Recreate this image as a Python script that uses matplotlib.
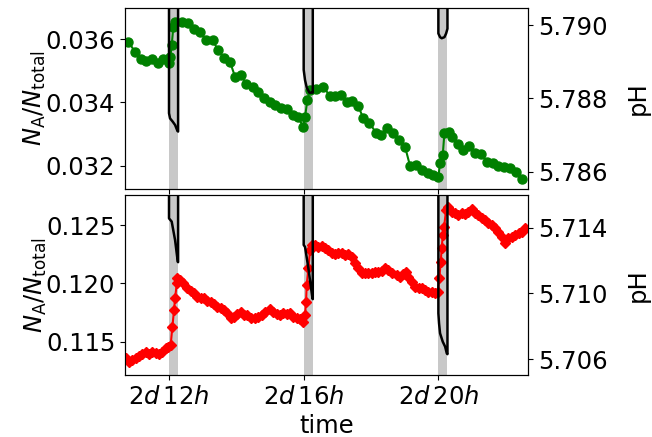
import numpy as np
import matplotlib
matplotlib.use("Agg")
import matplotlib.pyplot as plt
from matplotlib.ticker import FixedLocator, FuncFormatter

# ---------------- data (time in hours of day 2) ----------------
band_starts = [12.0, 16.0, 20.0]
band_len = 0.27
xtick_hours = [12, 16, 20]

green_t = [10.79, 10.99, 11.16, 11.32, 11.50, 11.68, 11.83, 12.01,
           12.04, 12.08, 12.13, 12.18, 12.38, 12.57, 12.74, 12.92,
           13.10, 13.30, 13.45, 13.64, 13.81, 13.96, 14.14, 14.29,
           14.49, 14.65, 14.83, 15.00, 15.15, 15.33, 15.50, 15.69,
           15.84, 15.99, 16.04, 16.11, 16.19, 16.37, 16.58, 16.78,
           16.93, 17.10, 17.28, 17.44, 17.62, 17.77, 17.95, 18.15,
           18.30, 18.48, 18.66, 18.83, 19.01, 19.16, 19.34, 19.51,
           19.68, 19.85, 20.00, 20.05, 20.13, 20.18, 20.33, 20.40,
           20.59, 20.74, 20.92, 21.09, 21.27, 21.44, 21.61, 21.78,
           21.95, 22.13, 22.31, 22.48]
green_v = [35.92, 35.61, 35.37, 35.31, 35.37, 35.26, 35.37, 35.24,
           35.44, 35.82, 36.40, 36.56, 36.56, 36.53, 36.32, 36.24,
           35.98, 35.98, 35.66, 35.40, 35.29, 34.82, 34.87, 34.59,
           34.48, 34.34, 34.15, 34.03, 33.92, 33.82, 33.78, 33.60,
           33.53, 33.22, 33.55, 34.08, 34.40, 34.42, 34.48, 34.22,
           34.22, 34.24, 34.01, 34.06, 33.89, 33.50, 33.36, 33.04,
           32.97, 33.18, 33.04, 32.81, 32.60, 31.99, 32.02, 31.86,
           31.76, 31.71, 31.65, 32.08, 32.34, 33.04, 33.08, 32.92,
           32.69, 32.50, 32.62, 32.41, 32.37, 32.13, 32.08, 32.00,
           31.97, 31.94, 31.81, 31.57]  # x 1e-3

red_t = [10.71, 10.81, 10.91, 11.01, 11.11, 11.21, 11.31, 11.41, 11.50, 11.60,
         11.70, 11.80, 11.90, 11.97, 12.05, 12.10, 12.15, 12.18, 12.23, 12.25,
         12.33, 12.42, 12.54, 12.64, 12.74, 12.84, 12.94, 13.04, 13.14, 13.24, 13.34,
         13.43, 13.54, 13.63, 13.73, 13.83, 13.93, 14.03, 14.13, 14.23, 14.33, 14.43,
         14.55, 14.65, 14.75, 14.85, 15.00, 15.10, 15.20, 15.30, 15.39, 15.50, 15.59,
         15.69, 15.79, 15.89, 15.99, 16.04, 16.07, 16.09, 16.14, 16.19, 16.24,
         16.34, 16.43, 16.54, 16.63, 16.73, 16.83, 16.93, 17.03, 17.13, 17.23, 17.33,
         17.43, 17.52, 17.62, 17.72, 17.82, 17.92, 18.02, 18.12, 18.22, 18.32, 18.42,
         18.51, 18.61,
         18.76, 18.86, 18.96, 19.04, 19.11, 19.21, 19.31, 19.41, 19.51, 19.60, 19.70,
         19.80, 19.90, 19.98, 20.03, 20.07, 20.10, 20.13, 20.17, 20.23, 20.30,
         20.40, 20.49, 20.59, 20.69, 20.79, 20.89, 20.99, 21.09, 21.19, 21.29, 21.39,
         21.48, 21.58, 21.68, 21.78, 21.88, 21.98, 22.08, 22.18, 22.28, 22.38, 22.48,
         22.57]
red_v = [113.58, 113.26, 113.43, 113.58, 113.80, 113.92, 114.09, 113.92, 114.09, 114.01,
         113.92, 114.09, 114.43, 114.57, 114.72, 116.29, 117.72, 118.72, 120.00, 120.43,
         120.29, 120.00, 119.63, 119.34, 119.15, 118.86, 118.77, 118.72, 118.49, 118.43, 118.20,
         118.00, 117.86, 117.72, 117.43, 117.00, 117.14, 117.35, 117.57, 117.29, 117.29, 117.00,
         117.00, 117.14, 117.29, 117.52, 117.80, 117.52, 117.35, 117.29, 117.43, 117.35, 117.43,
         117.14, 117.06, 116.95, 116.66, 117.29, 118.43, 119.86, 121.29, 122.86, 123.29,
         123.29, 123.14, 123.23, 123.00, 122.86, 122.57, 122.49, 122.57, 122.57, 122.43, 122.49,
         122.28, 121.72, 121.29, 120.86, 120.86, 120.86, 120.86, 120.95, 121.00, 121.06, 121.29,
         121.14, 120.86,
         120.72, 120.57, 120.78, 120.95, 120.57, 120.09, 119.71, 119.58, 119.58, 119.43, 119.28,
         119.28, 119.15, 119.28, 120.43, 121.86, 123.00, 124.14, 124.85, 126.29, 126.57,
         126.14, 126.00, 125.86, 126.00, 125.92, 126.14, 126.37, 126.00, 125.86, 125.57, 125.43,
         125.15, 125.00, 124.77, 124.43, 124.00, 123.43, 123.86, 124.00, 124.14, 124.29, 124.43,
         124.72]  # x 1e-3

# pH during the dosing windows (outside them pH is above the plotted range)
ph_top_t = [[12.0, 12.0, 12.03, 12.11, 12.18, 12.25, 12.27, 12.27],
            [16.0, 16.0, 16.04, 16.09, 16.17, 16.24, 16.27, 16.27],
            [20.0, 20.0, 20.05, 20.10, 20.18, 20.23, 20.27, 20.27]]
ph_top_v = [[5.7960, 5.78760, 5.78746, 5.78737, 5.78728, 5.78712, 5.78710, 5.7960],
            [5.7960, 5.78878, 5.78850, 5.78830, 5.78816, 5.78816, 5.78816, 5.7960],
            [5.7960, 5.78977, 5.78967, 5.78964, 5.78967, 5.78977, 5.78990, 5.7960]]
ph_bot_t = [[12.0, 12.0, 12.08, 12.18, 12.26, 12.27, 12.27],
            [16.0, 16.0, 16.04, 16.14, 16.26, 16.27, 16.27],
            [20.0, 20.0, 20.02, 20.05, 20.13, 20.20, 20.25, 20.27, 20.27]]
ph_bot_v = [[5.7200, 5.71457, 5.71437, 5.71325, 5.71193, 5.71190, 5.7200],
            [5.7200, 5.71295, 5.71283, 5.71153, 5.70970, 5.70965, 5.7200],
            [5.7200, 5.70879, 5.70818, 5.70757, 5.70706, 5.70676, 5.70635, 5.70630, 5.7200]]

top_left_ticks = [0.032, 0.034, 0.036]
top_right_ticks = [5.786, 5.788, 5.790]
bot_left_ticks = [0.115, 0.120, 0.125]
bot_right_ticks = [5.706, 5.710, 5.714]

# ---------------- figure ----------------
FS = 17.5
fig = plt.figure(figsize=(6.52, 4.37), dpi=100)
L, W = 125 / 652, (528 - 125) / 652
ax1 = fig.add_axes([L, 1 - 189 / 437, W, (189 - 8) / 437])
ax3 = fig.add_axes([L, 1 - 375 / 437, W, (375 - 195) / 437], sharex=ax1)
ax2 = ax1.twinx()
ax4 = ax3.twinx()

for ax in (ax1, ax3):
    for s in band_starts:
        ax.axvspan(s, s + band_len, color='#c8c8c8', lw=0, zorder=0)

ax1.plot(green_t, np.array(green_v) * 1e-3, '-o', color='green', ms=6.5, lw=1.5, zorder=3)
ax3.plot(red_t, np.array(red_v) * 1e-3, '-D', color='red', ms=5, lw=1.5, zorder=3)

for tt, vv in zip(ph_top_t, ph_top_v):
    ax2.plot(tt, vv, color='black', lw=1.8)
for tt, vv in zip(ph_bot_t, ph_bot_v):
    ax4.plot(tt, vv, color='black', lw=1.8)

ax1.set_xlim(10.693, 22.662)
ax1.set_ylim(0.031263, 0.036990)
ax2.set_ylim(5.785537, 5.790463)
ax3.set_ylim(0.112147, 0.127571)
ax4.set_ylim(5.705032, 5.715991)

ax1.xaxis.set_major_locator(FixedLocator(xtick_hours))
ax3.xaxis.set_major_formatter(FuncFormatter(lambda x, p: r'$2d\,%dh$' % int(round(x))))
plt.setp(ax1.get_xticklabels(), visible=False)

ax1.set_yticks(top_left_ticks)
ax2.set_yticks(top_right_ticks)
ax3.set_yticks(bot_left_ticks)
ax4.set_yticks(bot_right_ticks)
fmt3 = FuncFormatter(lambda v, p: '%.3f' % v)
for ax in (ax1, ax2, ax3, ax4):
    ax.yaxis.set_major_formatter(fmt3)
    ax.tick_params(labelsize=FS)
ax3.tick_params(axis='x', labelsize=FS)

for ax in (ax1, ax3):
    ax.set_ylabel(r'$N_{\rm A}/N_{\rm total}$', fontsize=FS, labelpad=-2)
for ax in (ax2, ax4):
    ax.set_ylabel('pH', fontsize=FS, labelpad=13)
ax3.set_xlabel('time', fontsize=FS, labelpad=4)

fig.savefig('out.png', dpi=100)
